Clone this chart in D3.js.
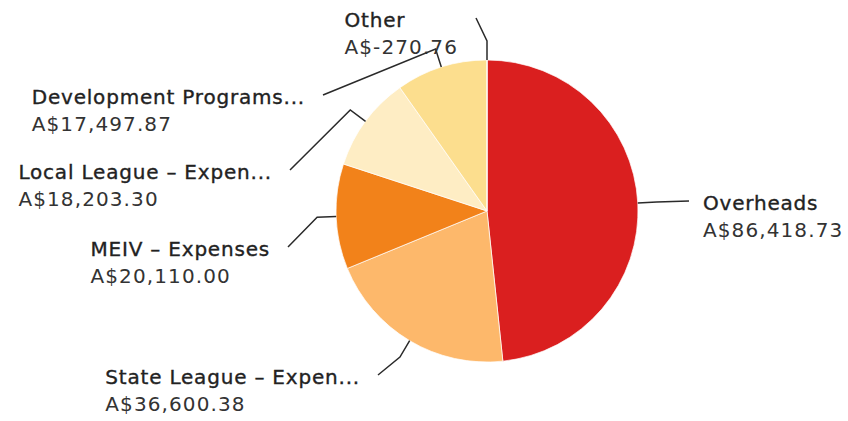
<!DOCTYPE html>
<html>
<head>
<meta charset="utf-8">
<script src="https://cdn.jsdelivr.net/npm/d3@7"></script>
<style>
  html, body { margin: 0; padding: 0; background: #fff; }
  svg { display: block; }
  .lbl text { font-family: "DejaVu Sans", sans-serif; font-size: 20px; }
  .lbl .name { fill: #222; stroke: #222; stroke-width: 0.35px; letter-spacing: 0.8px; }
  .lbl .val { fill: #333; letter-spacing: 1.1px; }
</style>
</head>
<body>
<svg id="chart" width="848" height="421"></svg>
<script>
// ---- data ----
const categories = [
  "Overheads",
  "State League – Expen...",
  "MEIV – Expenses",
  "Local League – Expen...",
  "Development Programs...",
  "Other"
];
const values = [86418.73, 36600.38, 20110.00, 18203.30, 17497.87, -270.76];
const colors = ["#DA1F1F", "#FDB86B", "#F2821A", "#FEEDC4", "#FCDE8E", "#F3E6C8"];

// label layout: bend point of each leader, relative to pie centre, and side
const labelBends = [[202, -10], [-109, 164], [-199, 36], [-197, -41], [-164, -116], [-11, -193]];
const labelSide = ["right", "left", "left", "left", "left", "left"];

// ---- layout ----
const cx = 487, cy = 211, radius = 151, outerLead = 170;

const svg = d3.select("#chart");
const g = svg.append("g").attr("transform", `translate(${cx},${cy})`);

const rows = categories.map((c, i) => ({ name: c, value: values[i], color: colors[i], i }));

const pie = d3.pie().sort(null).value(d => Math.max(0, d.value));
const arcs = pie(rows);

const arc = d3.arc().innerRadius(0).outerRadius(radius);

g.selectAll("path.slice")
  .data(arcs)
  .join("path")
  .attr("class", "slice")
  .attr("d", arc)
  .attr("fill", d => d.data.color)
  .attr("stroke", "#fff")
  .attr("stroke-width", 0.7);

const fmt = d3.formatLocale({ decimal: ".", thousands: ",", grouping: [3], currency: ["", ""], minus: "-" }).format(",.2f");

// leader lines
const midAngle = d => (d.startAngle + d.endAngle) / 2;
const pointAt = (a, r) => [r * Math.sin(a), -r * Math.cos(a)];

g.selectAll("polyline.lead")
  .data(arcs)
  .join("polyline")
  .attr("class", "lead")
  .attr("fill", "none")
  .attr("stroke", "#2a2a2a")
  .attr("stroke-width", 1.5)
  .attr("points", d => {
    const a = midAngle(d);
    const p0 = pointAt(a, radius);
    const p1 = pointAt(a, outerLead);
    const p2 = labelBends[d.data.i];
    return [p0, p1, p2].map(p => p.join(",")).join(" ");
  });

// labels
const lbl = g.selectAll("g.lbl")
  .data(arcs)
  .join("g")
  .attr("class", "lbl");

lbl.append("text").attr("class", "name").attr("y", 0).text(d => d.data.name);
lbl.append("text").attr("class", "val").attr("y", 27).text(d => "A$" + fmt(d.data.value));

lbl.each(function (d) {
  const node = d3.select(this);
  const b = labelBends[d.data.i];
  let w = 0;
  node.selectAll("text").each(function () { w = Math.max(w, this.getComputedTextLength()); });
  const x = labelSide[d.data.i] === "right" ? b[0] + 14 : b[0] - 18 - w;
  node.attr("transform", `translate(${x},${b[1] + 9})`);
});
</script>
</body>
</html>
